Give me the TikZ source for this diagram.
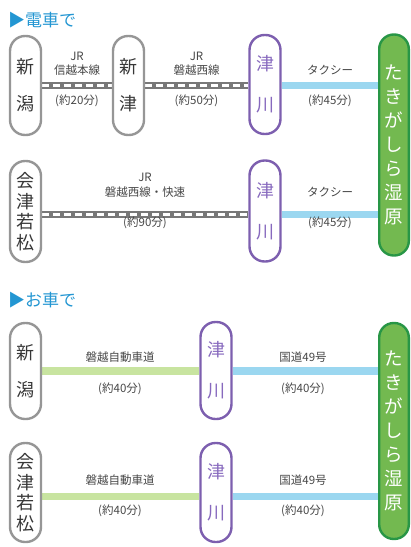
\documentclass[tikz,border=0pt]{standalone}
\usepackage{fontspec}
\setmainfont{Noto Sans CJK JP}
\usetikzlibrary{backgrounds}
\definecolor{titleblue}{RGB}{35,150,210}
\definecolor{pillgray}{RGB}{150,150,150}
\definecolor{pillpurple}{RGB}{125,95,175}
\definecolor{purpletext}{RGB}{135,105,190}
\definecolor{greenfill}{RGB}{115,185,80}
\definecolor{greenborder}{RGB}{40,150,70}
\definecolor{taxiblue}{RGB}{155,215,240}
\definecolor{roadgreen}{RGB}{200,228,160}
\definecolor{railgray}{RGB}{120,120,120}
\definecolor{txt}{RGB}{55,55,55}
\definecolor{lbl}{RGB}{70,70,70}
\begin{document}
\begin{tikzpicture}[x=1pt,y=-1pt,
  pill/.style={draw=pillgray, line width=2.4pt, fill=white, rounded corners=15pt,
    minimum width=31pt, inner sep=0pt, align=center, text=txt},
  two/.style={font=\fontsize{18}{37}\selectfont},
  four/.style={font=\fontsize{18}{20.5}\selectfont},
  tsu/.style={pill, draw=pillpurple, text=purpletext, font=\fontsize{18}{41}\selectfont},
  dest/.style={draw=greenborder, line width=2.4pt, fill=greenfill, rounded corners=14.5pt,
    minimum width=29.6pt, inner sep=0pt, align=center, text=white,
    font=\fontsize{18.5}{24}\selectfont},
  lab/.style={font=\fontsize{11.5}{13}\selectfont, text=lbl, inner sep=0pt},
  ttl/.style={font=\fontsize{17}{19}\selectfont, text=titleblue, anchor=west, inner sep=0pt},
  railbase/.style={draw=railgray, line width=7pt},
  railtop/.style={draw=white, line width=3pt, dash pattern=on 6.5pt off 4.5pt},
  taxi/.style={draw=taxiblue, line width=7.5pt},
  road/.style={draw=roadgreen, line width=7.5pt}]
\useasboundingbox (0,0) rectangle (411,547);

% ---------- section 1: by train ----------
\node[ttl] (title1) at (8,20) {▶電車で};

\node[pill, two, minimum height=99pt] (n1) at (25.5,85.5) {新\\潟};
\node[pill, two, minimum height=99pt] (s1) at (128.5,85.5) {新\\津};
\node[tsu, minimum height=99pt] (t1) at (265,84.5) {津\\川};
\node[dest, minimum height=221pt] (g1) at (394,145) {た\\き\\が\\し\\ら\\湿\\原};

\node[pill, four, minimum height=101pt] (a2) at (25.5,211.5) {会\\津\\若\\松};
\node[tsu, minimum height=101pt] (t2) at (265,211) {津\\川};

\begin{scope}[on background layer]
  \draw[railbase] (n1.east) -- (s1.west);
  \draw[railtop] (n1.east) -- (s1.west);
  \draw[railbase] (s1.east) -- (s1.east -| t1.west);
  \draw[railtop] (s1.east) -- (s1.east -| t1.west);
  \draw[taxi] (s1.east -| t1.east) -- (s1.east -| g1.west);
  \draw[railbase] ([yshift=-3pt]a2.east) -- ([yshift=-3pt]a2.east -| t2.west);
  \draw[railtop] ([yshift=-3pt]a2.east) -- ([yshift=-3pt]a2.east -| t2.west);
  \draw[taxi] ([yshift=-3pt]a2.east -| t2.east) -- ([yshift=-3pt]a2.east -| g1.west);
\end{scope}

\node[lab] (l1a) at (77,56) {JR};
\node[lab] (l1b) at (77,70) {信越本線};
\node[lab] (l1c) at (77,101) {(約20分)};
\node[lab] (l2a) at (196.5,56) {JR};
\node[lab] (l2b) at (196.5,70) {磐越西線};
\node[lab] (l2c) at (196.5,101) {(約50分)};
\node[lab] (l3b) at (330,70) {タクシー};
\node[lab] (l3c) at (330,101) {(約45分)};

\node[lab] (l4a) at (145,177) {JR};
\node[lab] (l4b) at (145,192) {磐越西線・快速};
\node[lab] (l4c) at (145,223) {(約90分)};
\node[lab] (l5b) at (330,192) {タクシー};
\node[lab] (l5c) at (330,223) {(約45分)};

% ---------- section 2: by car ----------
\node[ttl] (title2) at (8,300) {▶お車で};

\node[pill, two, minimum height=96pt] (n3) at (25.5,371) {新\\潟};
\node[tsu, minimum height=97pt] (t3) at (216,370.5) {津\\川};
\node[dest, minimum height=216pt] (g2) at (394,431) {た\\き\\が\\し\\ら\\湿\\原};

\node[pill, four, minimum height=99pt] (a4) at (25.5,492.5) {会\\津\\若\\松};
\node[tsu, minimum height=99pt] (t4) at (216,492.5) {津\\川};

\begin{scope}[on background layer]
  \draw[road] (n3.east) -- (n3.east -| t3.west);
  \draw[taxi] (n3.east -| t3.east) -- (n3.east -| g2.west);
  \draw[road] ([yshift=-4pt]a4.east) -- ([yshift=-4pt]a4.east -| t4.west);
  \draw[taxi] ([yshift=-4pt]a4.east -| t4.east) -- ([yshift=-4pt]a4.east -| g2.west);
\end{scope}

\node[lab] (l6b) at (120,357) {磐越自動車道};
\node[lab] (l6c) at (120,389) {(約40分)};
\node[lab] (l7b) at (303,357) {国道49号};
\node[lab] (l7c) at (303,389) {(約40分)};
\node[lab] (l8b) at (120,480) {磐越自動車道};
\node[lab] (l8c) at (120,511) {(約40分)};
\node[lab] (l9b) at (303,480) {国道49号};
\node[lab] (l9c) at (303,511) {(約40分)};
\end{tikzpicture}
\end{document}
